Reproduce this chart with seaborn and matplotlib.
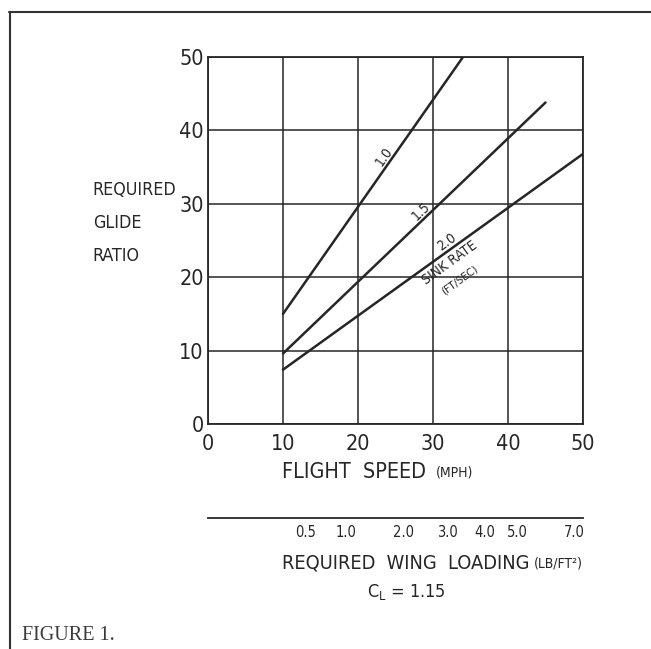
import numpy as np
import pandas as pd
import matplotlib
matplotlib.use("Agg")
import matplotlib.pyplot as plt
from matplotlib.lines import Line2D
import seaborn as sns

# ---- data ----
sink_rates = ["1.0", "1.5", "2.0"]
speed_sink_10 = [10, 34.0]
glide_sink_10 = [15.0, 50.0]
speed_sink_15 = [10, 45.0]
glide_sink_15 = [9.6, 43.8]
speed_sink_20 = [10, 50.0]
glide_sink_20 = [7.4, 36.8]

x_ticks = [0, 10, 20, 30, 40, 50]
y_ticks = [0, 10, 20, 30, 40, 50]
wing_loading_ticks = [0.5, 1.0, 2.0, 3.0, 4.0, 5.0, 7.0]
wing_loading_labels = ["0.5", "1.0", "2.0", "3.0", "4.0", "5.0", "7.0"]
CL = 1.15
RHO = 0.002377  # slug/ft^3

df = pd.DataFrame({
    "speed": speed_sink_10 + speed_sink_15 + speed_sink_20,
    "glide": glide_sink_10 + glide_sink_15 + glide_sink_20,
    "sink": [sink_rates[0]] * 2 + [sink_rates[1]] * 2 + [sink_rates[2]] * 2,
})

sns.set_theme(style="white")
plt.rcParams["font.family"] = ["DejaVu Sans"]
plt.rcParams["font.stretch"] = "condensed"
INK = "#262626"

fig = plt.figure(figsize=(6.51, 6.49), dpi=100)
ax = fig.add_axes([208 / 651, 225 / 649, 375 / 651, 367 / 649])

sns.lineplot(data=df, x="speed", y="glide", units="sink", estimator=None,
             color=INK, linewidth=1.8, ax=ax, legend=False)

ax.set_xlim(0, 50)
ax.set_ylim(0, 50)
ax.set_xticks(x_ticks)
ax.set_yticks(y_ticks)
ax.set_xticklabels([str(v) for v in x_ticks])
ax.set_yticklabels([str(v) for v in y_ticks])
ax.grid(True, color=INK, linewidth=1.1)
ax.set_axisbelow(True)
for s in ax.spines.values():
    s.set_color(INK)
    s.set_linewidth(1.3)
ax.tick_params(axis="both", length=0, labelsize=15.5, labelcolor=INK)
ax.tick_params(axis="y", pad=3)
ax.tick_params(axis="x", pad=7)

# y label (horizontal, multi-line)
ax.set_ylabel("REQUIRED\nGLIDE\nRATIO", rotation=0, ha="left", va="center",
              fontsize=12.8, color=INK, linespacing=2.08)
ax.yaxis.set_label_coords(-0.307, 0.548)

# x label
ax.set_xlabel("")
ax.text(0.197, -0.131, "FLIGHT  SPEED", transform=ax.transAxes, ha="left",
        va="center", fontsize=15.5, color=INK)
ax.text(0.607, -0.131, "(MPH)", transform=ax.transAxes, ha="left",
        va="center", fontsize=10, color=INK)

# line labels
ax.text(23.5, 36.4, "1.0", rotation=55, ha="center", va="center",
        fontsize=10, color=INK)
ax.text(28.4, 29.0, "1.5", rotation=44, ha="center", va="center",
        fontsize=10, color=INK)
ax.text(31.8, 24.8, "2.0", rotation=36, ha="center", va="center",
        fontsize=10, color=INK)
ax.text(32.2, 21.9, "SINK RATE", rotation=36, ha="center", va="center",
        fontsize=10, color=INK)
ax.text(33.5, 19.6, "(FT/SEC)", rotation=36, ha="center", va="center",
        fontsize=8, color=INK)

# secondary wing-loading axis
def speed_to_loading(v):
    v = np.asarray(v, dtype=float)
    return 0.5 * RHO * (v * 5280 / 3600) ** 2 * CL


def loading_to_speed(w):
    w = np.clip(np.asarray(w, dtype=float), 0, None)
    return np.sqrt(w / (0.5 * RHO * CL)) * 3600 / 5280


sec = ax.secondary_xaxis(-0.256, functions=(speed_to_loading, loading_to_speed))
sec.set_xticks(wing_loading_ticks)
sec.set_xticklabels(wing_loading_labels)
sec.tick_params(axis="x", length=0, pad=5, labelsize=10.5, labelcolor=INK)
sec.spines["bottom"].set_color(INK)
sec.spines["bottom"].set_linewidth(1.3)

ax.text(0.197, -0.379, "REQUIRED  WING  LOADING", transform=ax.transAxes,
        ha="left", va="center", fontsize=14.3, color=INK)
ax.text(0.87, -0.379, "(LB/FT²)", transform=ax.transAxes,
        ha="left", va="center", fontsize=10, color=INK)
ax.text(0.53, -0.458, r"$\mathregular{C_L}$ = 1.15", transform=ax.transAxes,
        ha="center", va="center", fontsize=13, color=INK)

# page frame and caption
fig.add_artist(Line2D([10 / 651, 10 / 651], [0, 637 / 649],
                      transform=fig.transFigure, color="#333333", linewidth=1.5))
fig.add_artist(Line2D([9 / 651, 1], [637 / 649, 637 / 649],
                      transform=fig.transFigure, color="#333333", linewidth=1.5))
fig.text(22 / 651, 13 / 649, "FIGURE 1.", ha="left", va="center",
         fontsize=14.5, color="#3a3a3a", stretch="normal",
         family=["Liberation Serif", "DejaVu Serif"])

fig.savefig("out.png", dpi=100, facecolor="white")
